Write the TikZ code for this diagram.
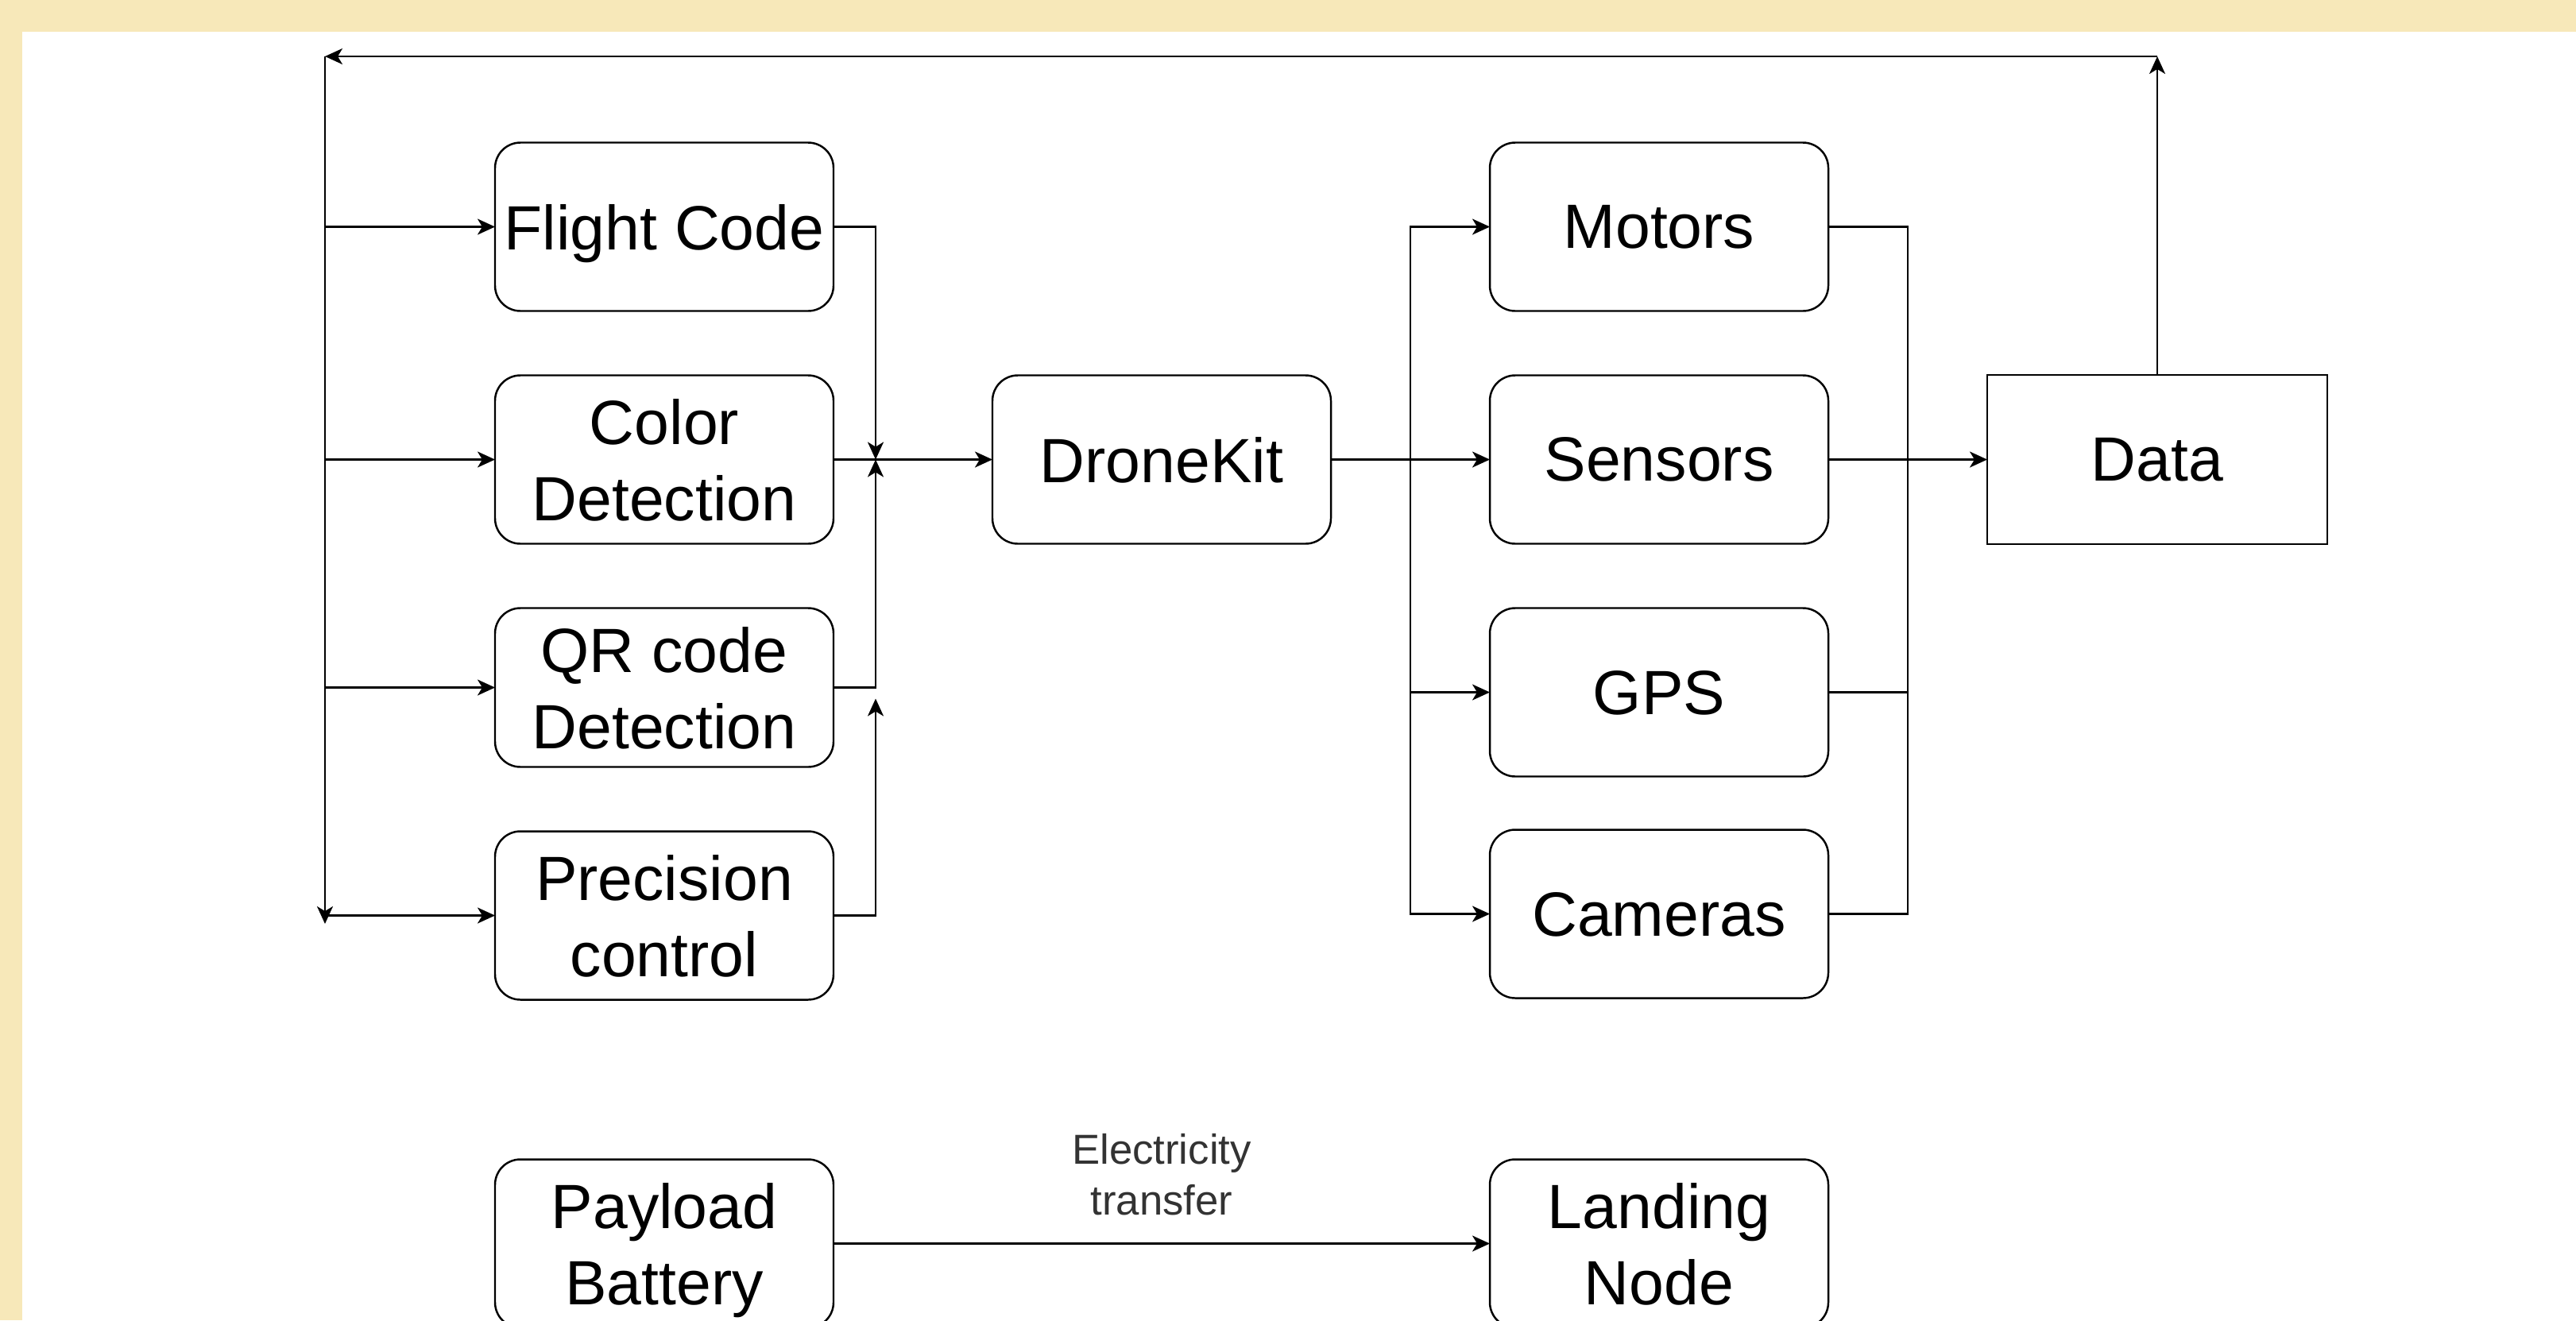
\documentclass[tikz,border=0pt]{standalone}
\usepackage{fontspec}
\setsansfont{Liberation Sans}
\usetikzlibrary{
  positioning,
  calc,
  arrows.meta}
\definecolor{sheetcolor}{RGB}{247,232,185}
\definecolor{labelcolor}{RGB}{51,51,51}
\tikzset{
  %% block : a software or hardware part of the drone
  block/.style={
    rectangle,
    rounded corners=0.32cm,
    draw=black,
    line width=0.7pt,
    minimum width=4.26cm,
    minimum height=2.12cm,
    inner sep=0.05cm,
    outer sep=0pt,
    text depth=0pt,
    font=\fontsize{22.4}{27.3}\selectfont,
    align=center
  },
  %% store : the collected data (sharp corners)
  store/.style={
    rectangle,
    draw=black,
    line width=0.7pt,
    minimum width=4.28cm,
    minimum height=2.13cm,
    inner sep=0.05cm,
    outer sep=0pt,
    font=\fontsize{22.4}{27.3}\selectfont,
    align=center
  },
  %% link : connection with an arrow tip
  link/.style={
    line width=0.7pt,
    -{Stealth[length=0.22cm, width=0.2cm, inset=0.06cm]}
  },
  %% wire : connection without arrow tip
  wire/.style={line width=0.7pt},
  %% elabel : text on a link
  elabel/.style={
    labelcolor,
    font=\fontsize{15}{18.2}\selectfont,
    align=center,
    inner sep=0pt,
    text depth=0pt
  }
}

\begin{document}
\begin{tikzpicture}
  [x=1cm,
  y=-1cm,
  node distance=0.81cm and 2cm]
  \sffamily

  %% Sheet
  \useasboundingbox (0, 0) rectangle (32.42, 16.62);
  \fill [sheetcolor] (0, 0) rectangle (32.42, 16.62);
  \fill [white] (0.28, 0.40) rectangle (32.42, 16.62);

  %% Software column
  \node (flight) [block] at (8.36, 2.855) {Flight Code};

  \node (color) [below=of flight, block] {%
    Color\\Detection};

  \node (qr) [below=of color, block, minimum height=2.0cm] {%
    QR code\\Detection};

  \node (precision) [below=of qr, block] {%
    Precision\\control};

  %% Flight controller and hardware
  \node (dronekit) [right=of color, block] {DroneKit};

  \node (sensors) [right=of dronekit, block] {Sensors};
  \node (motors) [above=of sensors, block] {Motors};
  \node (gps) [below=of sensors, block] {GPS};
  \node (cameras) [below=0.67cm of gps, block] {Cameras};

  \node (data) [right=of sensors, store] {Data};

  %% Power
  \node (battery) [below=2.01cm of precision, block] {%
    Payload\\Battery};
  \node (landing) [block] at (battery -| cameras) {%
    Landing\\Node};

  %% Feedback loop
  \coordinate (fbleft) at (4.09, 0.71);
  \coordinate (fbright) at (fbleft -| data.north);
  \coordinate (fbend) at (4.09, 11.63);
  \draw [link] (data.north) -- (fbright);
  \draw [link] (fbright) -- (fbleft);
  \draw [link] (fbleft) -- (fbend);
  \draw [link] (fbleft |- flight.west) -- (flight.west);
  \draw [link] (fbleft |- color.west) -- (color.west);
  \draw [link] (fbleft |- qr.west) -- (qr.west);
  \draw [link] (fbleft |- precision.west) -- (precision.west);

  %% Software into DroneKit
  \coordinate (merge) at ($(color.east) + (0.53, 0)$);
  \coordinate (qrjoin) at ($(qr.east -| merge) + (0, 0.14)$);
  \draw [link] (flight.east) -| (merge);
  \draw [link] (qr.east) -| (merge);
  \draw [link] (precision.east) -| (qrjoin);
  \draw [link] (color.east) -- (dronekit.west);

  %% DroneKit to hardware
  \coordinate (split) at ($(dronekit.east) + (1.0, 0)$);
  \draw [wire] (dronekit.east) -- (split);
  \draw [link] (split) |- (motors.west);
  \draw [link] (split) -- (sensors.west);
  \draw [link] (split) |- (gps.west);
  \draw [link] (split) |- (cameras.west);

  %% Hardware to data
  \coordinate (gather) at ($(sensors.east) + (1.0, 0)$);
  \draw [wire] (motors.east) -| (gather);
  \draw [wire] (gps.east) -| (gather);
  \draw [wire] (cameras.east) -| (gather);
  \draw [link] (sensors.east) -- (data.west);

  %% Power transfer
  \draw [link] (battery.east) -- node [elabel, above=0.35cm] {%
    Electricity\\transfer} (landing.west);

\end{tikzpicture}
\end{document}
